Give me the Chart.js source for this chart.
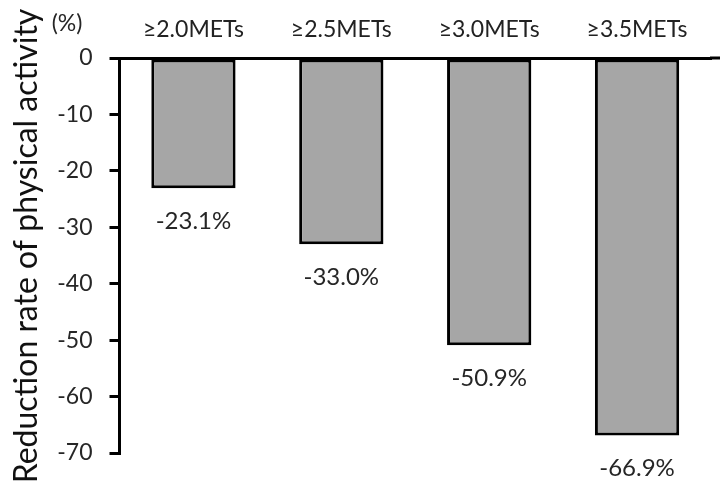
<!DOCTYPE html>
<html>
<head>
<meta charset="utf-8">
<script src="https://cdn.jsdelivr.net/npm/chart.js@4"></script>
<style>
  html, body { margin: 0; padding: 0; background: #fff; }
  #wrap { width: 728px; height: 499px; }
</style>
</head>
<body>
<div id="wrap"><canvas id="chart"></canvas></div>
<script>
const categories = ["≥2.0METs", "≥2.5METs", "≥3.0METs", "≥3.5METs"];
const reduction = [-23.1, -33.0, -50.9, -66.9];
const valueLabels = ["-23.1%", "-33.0%", "-50.9%", "-66.9%"];
const yTicks = [0, -10, -20, -30, -40, -50, -60, -70];
const yTitle = "Reduction rate of physical activity";

const FONT = "Lato, 'Open Sans', 'DejaVu Sans', sans-serif";

// value labels under the bars, the (%) unit, the axis title and the zero line tail
const extraText = {
  id: "extraText",
  afterDatasetsDraw(chart) {
    const {ctx, scales: {x, y}} = chart;
    ctx.save();
    ctx.fillStyle = "#262626";
    ctx.font = "24px " + FONT;
    ctx.textAlign = "center";
    ctx.textBaseline = "middle";
    reduction.forEach((v, i) => {
      ctx.fillText(valueLabels[i], x.getPixelForValue(i), y.getPixelForValue(v) + 33);
    });
    ctx.font = "23px " + FONT;
    ctx.fillText("(%)", 67, 24);

    // extend the zero line a little past the last category
    const y0 = y.getPixelForValue(0);
    ctx.strokeStyle = "#000";
    ctx.lineWidth = 3;
    ctx.beginPath();
    ctx.moveTo(x.right - 1, y0);
    ctx.lineTo(chart.width - 8, y0);
    ctx.stroke();

    // rotated axis title
    ctx.fillStyle = "#111";
    ctx.font = "32px " + FONT;
    ctx.translate(27, 246);
    ctx.rotate(-Math.PI / 2);
    ctx.fillText(yTitle, 0, 0);
    ctx.restore();
  }
};

new Chart(document.getElementById("chart"), {
  type: "bar",
  data: {
    labels: categories,
    datasets: [{
      data: reduction,
      backgroundColor: "#a6a6a6",
      borderColor: "#000",
      borderWidth: 3,
      borderSkipped: false,
      barPercentage: 0.57,
      categoryPercentage: 1.0
    }]
  },
  options: {
    responsive: true,
    maintainAspectRatio: false,
    animation: false,
    layout: { padding: { left: 0, right: 17, top: 0, bottom: 46 } },
    plugins: { legend: { display: false }, tooltip: { enabled: false } },
    scales: {
      x: {
        position: "top",
        grid: { display: true, drawOnChartArea: false, drawTicks: false },
        border: { display: true, color: "#000", width: 3 },
        ticks: { color: "#222", font: { size: 23, family: FONT }, padding: 15 },
        afterFit(s) { s.height = 58; }
      },
      y: {
        min: -70,
        max: 0,
        afterBuildTicks(s) { s.ticks = yTicks.map(v => ({ value: v })); },
        grid: { drawOnChartArea: false, color: "#000", lineWidth: 3, tickLength: 10 },
        border: { display: true, color: "#000", width: 3 },
        ticks: { color: "#262626", font: { size: 23, family: FONT }, padding: 17 },
        afterFit(s) { s.width = 119.5; }
      }
    }
  },
  plugins: [extraText]
});
</script>
</body>
</html>
